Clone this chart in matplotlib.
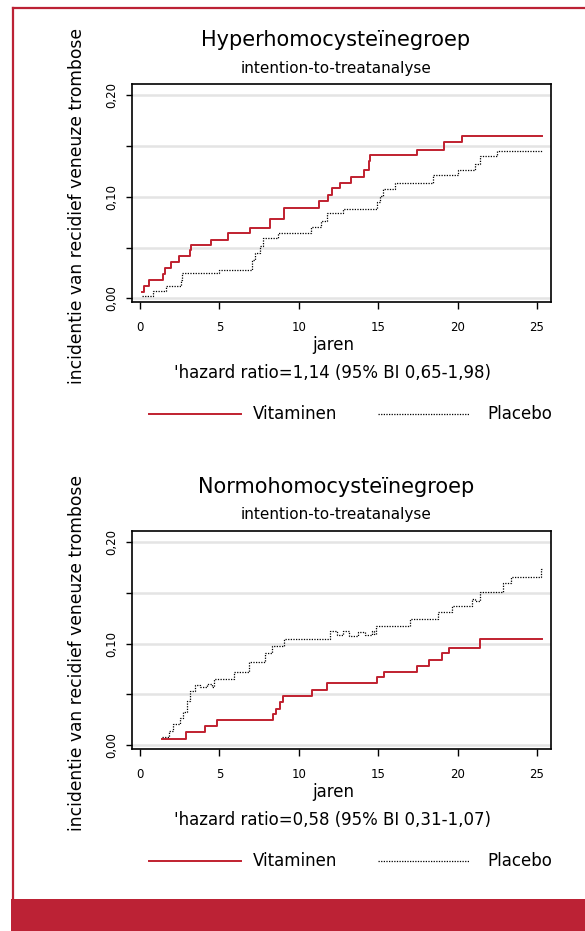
import matplotlib
matplotlib.use('Agg')
import matplotlib.pyplot as plt
from matplotlib.lines import Line2D
from matplotlib.patches import Rectangle

plt.rcParams['font.family'] = ['DejaVu Sans']

RED = '#c0202f'
FRAME = '#bc2235'

# Hyperhomocysteinegroep (top panel)
hyper_vit_t = [0.10, 0.25, 0.57, 1.45, 1.57, 1.95, 2.46, 3.15, 3.23, 4.45, 5.56, 6.93, 8.19,
               9.09, 11.25, 11.82, 12.11, 12.57, 13.31, 14.13, 14.40, 14.48, 17.42, 19.16, 20.30, 25.29]
hyper_vit_v = [0.006, 0.012, 0.018, 0.024, 0.030, 0.036, 0.042, 0.048, 0.052, 0.057, 0.064, 0.069, 0.078,
               0.089, 0.096, 0.102, 0.108, 0.113, 0.119, 0.126, 0.135, 0.141, 0.146, 0.154, 0.159, 0.159]
hyper_pla_t = [0.10, 0.84, 1.62, 2.56, 2.67, 4.97, 7.07, 7.24, 7.56, 7.72, 8.67, 10.75, 11.40,
               11.75, 12.80, 14.90, 15.11, 15.32, 16.06, 18.47, 20.00, 21.10, 21.41, 22.46, 25.29]
hyper_pla_v = [0.002, 0.007, 0.012, 0.018, 0.025, 0.028, 0.038, 0.045, 0.051, 0.059, 0.064, 0.070, 0.076,
               0.084, 0.088, 0.095, 0.101, 0.107, 0.113, 0.121, 0.126, 0.132, 0.140, 0.145, 0.145]

# Normohomocysteinegroep (bottom panel)
normo_vit_t = [1.39, 2.88, 4.11, 4.85, 8.38, 8.56, 8.82, 9.00, 10.83, 11.78, 14.90, 15.37,
               17.42, 18.22, 19.04, 19.46, 21.41, 25.29]
normo_vit_v = [0.0065, 0.013, 0.0186, 0.025, 0.031, 0.036, 0.043, 0.049, 0.054, 0.061, 0.0675, 0.0724,
               0.078, 0.0838, 0.0904, 0.096, 0.1044, 0.1044]
normo_pla_t = [1.39, 1.83, 2.10, 2.52, 2.73, 2.94, 3.15, 3.46, 3.78, 4.20, 4.51, 4.68, 5.94, 6.89,
               7.87, 8.29, 9.07, 11.96, 12.38, 12.76, 13.18, 13.75, 14.17, 14.59, 14.74, 14.86,
               17.00, 18.74, 19.67, 20.89, 21.10, 21.41, 22.88, 23.34, 25.27, 25.29]
normo_pla_v = [0.0085, 0.0144, 0.0215, 0.027, 0.033, 0.044, 0.0535, 0.059, 0.057, 0.060, 0.057, 0.065,
               0.072, 0.082, 0.091, 0.0976, 0.104, 0.112, 0.108, 0.112, 0.107, 0.1116, 0.108, 0.112,
               0.109, 0.1175, 0.124, 0.131, 0.137, 0.144, 0.1416, 0.151, 0.159, 0.165, 0.173, 0.173]

titles = ['Hyperhomocysteïnegroep', 'Normohomocysteïnegroep']
subtitle = 'intention-to-treatanalyse'
hazard = ["'hazard ratio=1,14 (95% BI 0,65-1,98)", "'hazard ratio=0,58 (95% BI 0,31-1,07)"]
ylabel = 'incidentie van recidief veneuze trombose'
xticks = [0, 5, 10, 15, 20, 25]
yticks = [0.0, 0.05, 0.10, 0.15, 0.20]
ylabels = ['0,00', '', '0,10', '', '0,20']

W, H = 585, 931
fig = plt.figure(figsize=(W / 100, H / 100), dpi=100)

def fx(px):
    return px / W

def fy(py):
    return 1 - py / H

# red frame round the figure
fig.add_artist(Line2D([fx(13), fx(13)], [fy(8), fy(900)], color=FRAME, lw=1.6))
fig.add_artist(Line2D([fx(13), 1], [fy(8), fy(8)], color=FRAME, lw=1.6))
fig.add_artist(Rectangle((fx(11), 0), 1 - fx(11), fy(899), color=FRAME, lw=0))

panels = [
    (84, 302, hyper_vit_t, hyper_vit_v, hyper_pla_t, hyper_pla_v, 0),
    (531, 749, normo_vit_t, normo_vit_v, normo_pla_t, normo_pla_v, 447),
]

for i, (top, bot, vt, vv, pt, pv, off) in enumerate(panels):
    ax = fig.add_axes([fx(132), fy(bot), fx(551) - fx(132), (bot - top) / H])
    ax.set_xlim(-0.5, 25.88)
    ax.set_ylim(-0.0035, 0.2105)
    for y in yticks:
        ax.axhline(y, color='#e4e4e4', lw=1.8, zorder=0)
    ax.step(pt, pv, where='post', color='black', lw=0.9, linestyle=(0, (1, 1.1)), zorder=2)
    ax.step(vt, vv, where='post', color=RED, lw=1.4, zorder=3)
    ax.set_xticks(xticks)
    ax.set_xticklabels([str(x) for x in xticks], fontsize=8.5)
    ax.set_yticks(yticks)
    ax.set_yticklabels(ylabels, fontsize=8.5, rotation=90, va='center')
    ax.tick_params(axis='x', length=5, width=1, pad=9)
    ax.tick_params(axis='y', length=4, width=1, pad=6)
    for s in ax.spines.values():
        s.set_linewidth(1.2)

    fig.text(fx(77), fy(206 + off), ylabel, rotation=90, ha='center', va='center', fontsize=12.3)
    fig.text(fx(336), fy(40 + off), titles[i], ha='center', va='center', fontsize=15)
    fig.text(fx(336), fy(68 + off), subtitle, ha='center', va='center', fontsize=11)
    fig.text(fx(333), fy(345 + off), 'jaren', ha='center', va='center', fontsize=12)
    fig.text(fx(333), fy(373 + off), hazard[i], ha='center', va='center', fontsize=12)
    ly = fy(414 + off)
    fig.add_artist(Line2D([fx(149), fx(241)], [ly, ly], color=RED, lw=1.4))
    fig.text(fx(253), ly, 'Vitaminen', ha='left', va='center', fontsize=12)
    fig.add_artist(Line2D([fx(378), fx(469)], [ly, ly], color='black', lw=0.9,
                          linestyle=(0, (1, 1.1))))
    fig.text(fx(487), ly, 'Placebo', ha='left', va='center', fontsize=12)

fig.savefig('out.png', dpi=100)
